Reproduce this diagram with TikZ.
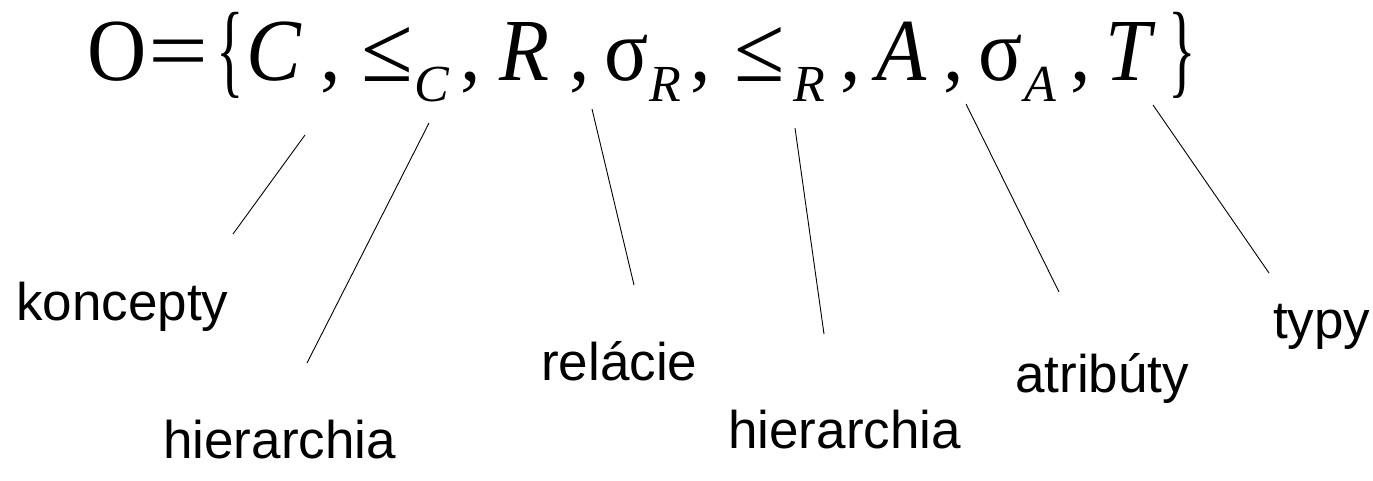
\documentclass[tikz,border=0pt]{standalone}
\usepackage{fontspec}
\usepackage{graphicx}
\setmainfont{Liberation Sans}
\newfontfamily\ser{Liberation Serif}
\newcommand{\tallglyph}[1]{\scalebox{1}[1.08]{#1}}
\tikzset{
  glyph/.style={anchor=base west, inner sep=0pt, font=\ser\fontsize{82}{82}\selectfont},
  iglyph/.style={glyph, font=\ser\itshape\fontsize{82}{82}\selectfont},
  subglyph/.style={anchor=base west, inner sep=0pt, font=\ser\itshape\fontsize{52}{52}\selectfont},
  lbl/.style={anchor=base west, inner sep=0pt, font=\fontsize{53}{53}\selectfont},
  conn/.style={line width=0.9pt, black}
}
\begin{document}
\begin{tikzpicture}[x=1pt,y=-1pt]
\useasboundingbox (0,0) rectangle (1373,480);
% formula
\node[glyph] (O) at (87,80) {\tallglyph{O}};
\node[glyph] (eq) at (148,80) {\scalebox{1.3}[1.08]{=}};
\node[glyph] (lb) at (216,84) {\scalebox{0.7}[1.27]{\{}};
\node[iglyph] (C) at (246,80) {\tallglyph{C}};
\node[glyph] (c1) at (320,80) {,};
\node[glyph] (le1) at (361,81) {\scalebox{1.15}[1.15]{≤}};
\node[subglyph] (sC) at (414,101) {C};
\node[glyph] (c2) at (460,80) {,};
\node[iglyph] (R) at (499,80) {\tallglyph{R}};
\node[glyph] (c3) at (569,80) {,};
\node[glyph] (s1) at (604,80) {\tallglyph{σ}};
\node[subglyph] (sR1) at (649,101) {R};
\node[glyph] (c4) at (690,80) {,};
\node[glyph] (le2) at (734,81) {\scalebox{1.12}[1.15]{≤}};
\node[subglyph] (sR2) at (793,101) {R};
\node[glyph] (c5) at (840,80) {,};
\node[iglyph] (A) at (876,80) {\tallglyph{A}};
\node[glyph] (c6) at (943,80) {,};
\node[glyph] (s2) at (978,80) {\tallglyph{σ}};
\node[subglyph] (sA) at (1024,101) {A};
\node[glyph] (c7) at (1070,80) {,};
\node[iglyph] (T) at (1105,80) {\tallglyph{T}};
\node[glyph] (rb) at (1168,84) {\scalebox{0.7}[1.27]{\}}};
% labels
\node[lbl] (kon) at (16,320) {koncepty};
\node[lbl] (hier1) at (163,458) {hierarchia};
\node[lbl] (rel) at (541,380) {relácie};
\node[lbl] (hier2) at (728,448) {hierarchia};
\node[lbl] (atr) at (1015,392) {atribúty};
\node[lbl] (typ) at (1273,338) {typy};
% connector ends
\coordinate (k1) at (305,135); \coordinate (k2) at (233,234);
\coordinate (h1) at (429,123); \coordinate (h2) at (307,363);
\coordinate (r1) at (592,109); \coordinate (r2) at (634,285);
\coordinate (g1) at (795,128); \coordinate (g2) at (824,334);
\coordinate (a1) at (966,104); \coordinate (a2) at (1059,292);
\coordinate (t1) at (1153,105); \coordinate (t2) at (1269,273);
\draw[conn] (k1) -- (k2);
\draw[conn] (h1) -- (h2);
\draw[conn] (r1) -- (r2);
\draw[conn] (g1) -- (g2);
\draw[conn] (a1) -- (a2);
\draw[conn] (t1) -- (t2);
\end{tikzpicture}
\end{document}
